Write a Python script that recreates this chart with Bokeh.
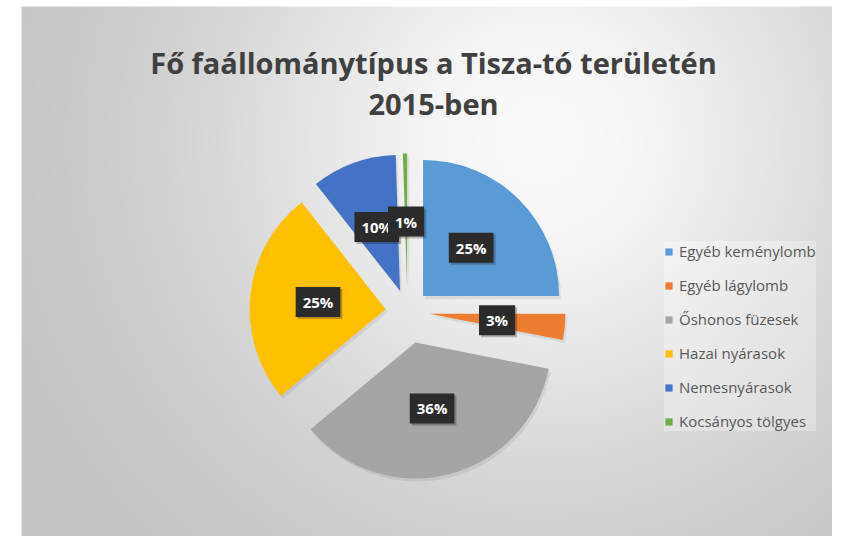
import math
import numpy as np
from bokeh.plotting import figure
from bokeh.models import ColumnDataSource, Range1d, Legend, LegendItem
from bokeh.core.properties import value
from bokeh.embed import file_html
from bokeh.resources import INLINE

# ---- data ----
title_lines = ["Fő faállománytípus a Tisza-tó területén", "2015-ben"]
categories = ["Egyéb keménylomb", "Egyéb lágylomb", "Őshonos füzesek",
              "Hazai nyárasok", "Nemesnyárasok", "Kocsányos tölgyes"]
shares = [25.0, 3.1, 35.9, 25.4, 10.1, 0.5]

# ---- styles ----
colors = ["#5B9BD5", "#ED7D31", "#A5A5A5", "#FFC000", "#4472C4", "#70AD47"]
explode = np.array([22, 22, 32, 22, 22, 22], dtype=float)
R = 136
CX, CY = 407, 311          # screen coordinates of pie centre
PAGE_H = 552               # reference picture height (for flipping y)
W, H = 832, 536            # figure size

p = figure(width=W, height=H, x_range=Range1d(0, W),
           y_range=Range1d(PAGE_H - H, PAGE_H),
           output_backend="svg", toolbar_location=None,
           x_axis_type=None, y_axis_type=None, min_border=0)
p.outline_line_color = None
p.background_fill_color = "white"
p.border_fill_color = "white"

# background radial gradient
page_x = np.arange(W) + 0.5
page_y = H - (np.arange(H) + 0.5)
PX, PY = np.meshgrid(page_x, page_y)
dist = np.hypot(PX - 540, PY - 140)
v = 194 + 56 * np.exp(-(dist / 340.0) ** 2)
v[(PX < 21) | (PY < 6)] = 255
img = np.empty((H, W), dtype=np.uint32)
view = img.view(dtype=np.uint8).reshape((H, W, 4))
vv = np.clip(v, 0, 255).astype(np.uint8)
view[..., 0] = vv
view[..., 1] = vv
view[..., 2] = vv
view[..., 3] = 255
p.image_rgba(image=[img], x=0, y=PAGE_H - H, dw=W, dh=H)

# pie geometry
total = float(sum(shares))
cum = np.cumsum(shares)
a0 = np.concatenate([[0.0], cum[:-1]]) / total * 360.0
a1 = cum / total * 360.0
bis = np.radians((a0 + a1) / 2.0)
xs = CX + explode * np.sin(bis)
ys = (PAGE_H - CY) + explode * np.cos(bis)
labels = [f"{math.floor(s / total * 100 + 0.5)}%" for s in shares]
lx = CX + (explode + R / 2.0) * np.sin(bis)
ly = (PAGE_H - CY) + (explode + R / 2.0) * np.cos(bis)

src = ColumnDataSource(dict(
    x=xs, y=ys, start=np.radians(90 - a0), end=np.radians(90 - a1),
    color=colors, cat=categories, lx=lx, ly=ly, lab=labels,
    sx=xs + 2, sy=ys - 3, lsx=lx + 2, lsy=ly - 2,
))

# soft slice shadow
p.wedge(x="sx", y="sy", radius=R, start_angle="start", end_angle="end",
        direction="clock", source=src, fill_color="black", fill_alpha=0.07,
        line_color=None)
wr = p.wedge(x="x", y="y", radius=R, start_angle="start", end_angle="end",
             direction="clock", source=src, fill_color="color", line_color=None)

# data labels (shadow + box)
p.text(x="lsx", y="lsy", text="lab", source=src, text_font=value("Open Sans"),
       text_font_style="bold", text_font_size="15px", text_alpha=0,
       text_align="center", text_baseline="middle",
       background_fill_color="black", background_fill_alpha=0.25, padding=(7, 5))
p.text(x="lx", y="ly", text="lab", source=src, text_font=value("Open Sans"),
       text_font_style="bold", text_font_size="15px", text_color="white",
       text_align="center", text_baseline="middle",
       background_fill_color="#2b2b2b", padding=(7, 5))

# title
p.text(x=[433, 433], y=[PAGE_H - 62, PAGE_H - 103], text=title_lines,
       text_font=value("Open Sans"), text_font_style="bold", text_font_size="29px",
       text_color="#404040", text_align="center", text_baseline="middle")

items = [LegendItem(label=c, renderers=[wr], index=i) for i, c in enumerate(categories)]
leg = Legend(items=items, location=(664, 105), orientation="vertical",
             glyph_width=9, glyph_height=9, label_height=20, spacing=14,
             padding=10, margin=0, label_standoff=6,
             label_text_font="Open Sans", label_text_font_size="15px",
             label_text_color="#595959", border_line_color=None,
             background_fill_color="white", background_fill_alpha=0.3)
p.add_layout(leg)

open("out.html", "w").write(file_html(p, INLINE))
